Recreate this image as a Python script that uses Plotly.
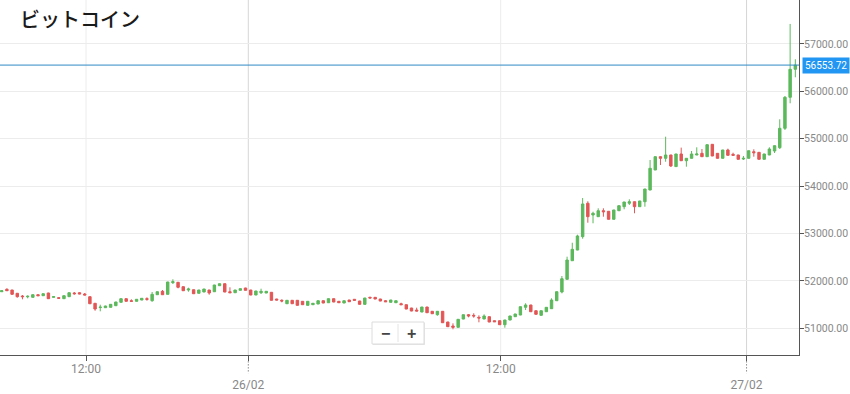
import plotly.graph_objects as go

title_text = "ビットコイン"

opens = [51772, 51823, 51808, 51739, 51681, 51665, 51654, 51709, 51688, 51745,
         51654, 51646, 51625, 51667, 51745, 51751, 51724, 51667, 51528, 51438,
         51435, 51443, 51477, 51549, 51625, 51582, 51570, 51597, 51625, 51582,
         51709, 51781, 51717, 51963, 51971, 51878, 51808, 51814, 51739, 51766,
         51808, 51772, 51899, 51941, 51772, 51751, 51802, 51850, 51808, 51703,
         51751, 51745, 51760, 51618, 51591, 51519, 51591, 51591, 51570, 51485,
         51498, 51513, 51582, 51540, 51625, 51570, 51534, 51597, 51612, 51576,
         51506, 51654, 51654, 51618, 51582, 51549, 51540, 51519, 51498, 51428,
         51386, 51344, 51449, 51359, 51287, 51359, 51133, 51049, 51021, 51196,
         51287, 51274, 51232, 51196, 51245, 51160, 51160, 51076, 51175, 51245,
         51281, 51443, 51492, 51371, 51274, 51350, 51414, 51582, 51766, 52034,
         52426, 52652, 52933, 53638, 53391, 53355, 53481, 53469, 53300, 53481,
         53566, 53638, 53671, 53566, 53671, 53918, 54341, 54621, 54587, 54657,
         54412, 54678, 54536, 54587, 54657, 54692, 54621, 54882, 54692, 54587,
         54762, 54671, 54657, 54572, 54587, 54726, 54713, 54566, 54657, 54741,
         54811, 55220, 55874, 56465]
highs = [51798, 51844, 51812, 51742, 51703, 51696, 51714, 51714, 51735, 51750,
         51672, 51650, 51692, 51756, 51766, 51760, 51745, 51672, 51532, 51498,
         51478, 51510, 51560, 51630, 51630, 51612, 51616, 51638, 51654, 51766,
         51776, 51808, 51982, 52034, 51976, 51882, 51857, 51818, 51812, 51833,
         51812, 51918, 51946, 51946, 51865, 51812, 51840, 51855, 51812, 51791,
         51836, 51785, 51764, 51622, 51612, 51595, 51595, 51595, 51574, 51574,
         51532, 51587, 51587, 51629, 51629, 51574, 51587, 51601, 51616, 51580,
         51643, 51667, 51660, 51622, 51597, 51601, 51587, 51540, 51502, 51432,
         51435, 51453, 51453, 51363, 51363, 51363, 51137, 51105, 51194, 51291,
         51302, 51317, 51274, 51295, 51249, 51164, 51164, 51179, 51264, 51306,
         51460, 51528, 51496, 51375, 51375, 51447, 51633, 51776, 52104, 52511,
         52806, 52975, 53749, 53680, 53460, 53532, 53532, 53473, 53500, 53591,
         53669, 53722, 53675, 53690, 53943, 54551, 54625, 54630, 55043, 54661,
         54682, 54812, 54591, 54741, 54819, 54783, 54878, 54886, 54696, 54766,
         54790, 54705, 54661, 54636, 54751, 54777, 54717, 54682, 54819, 54857,
         55410, 55901, 57422, 56676]
lows = [51768, 51790, 51713, 51646, 51612, 51633, 51650, 51684, 51684, 51620,
        51650, 51628, 51620, 51662, 51709, 51720, 51700, 51512, 51371, 51359,
        51430, 51440, 51473, 51545, 51566, 51566, 51566, 51593, 51582, 51561,
        51705, 51705, 51713, 51935, 51844, 51789, 51772, 51726, 51735, 51762,
        51709, 51768, 51895, 51762, 51747, 51747, 51798, 51798, 51699, 51699,
        51724, 51741, 51587, 51593, 51549, 51515, 51515, 51481, 51494, 51481,
        51494, 51509, 51530, 51536, 51551, 51536, 51530, 51557, 51587, 51502,
        51502, 51635, 51614, 51572, 51557, 51545, 51536, 51494, 51403, 51361,
        51361, 51340, 51325, 51304, 51266, 51114, 51030, 50979, 51017, 51192,
        51232, 51224, 51127, 51192, 51129, 51135, 51072, 51013, 51171, 51241,
        51277, 51386, 51346, 51291, 51270, 51346, 51410, 51578, 51738, 52030,
        52422, 52648, 52891, 53228, 53216, 53351, 53355, 53296, 53296, 53477,
        53511, 53602, 53427, 53562, 53566, 53914, 54337, 54446, 54515, 54404,
        54408, 54530, 54410, 54583, 54653, 54617, 54617, 54632, 54583, 54583,
        54646, 54646, 54562, 54551, 54583, 54621, 54562, 54562, 54653, 54699,
        54783, 55184, 55748, 56296]
closes = [51793, 51793, 51717, 51667, 51667, 51675, 51709, 51688, 51730, 51625,
          51667, 51633, 51688, 51751, 51730, 51724, 51703, 51519, 51407, 51447,
          51470, 51506, 51555, 51625, 51570, 51570, 51612, 51633, 51612, 51717,
          51772, 51709, 51977, 51983, 51865, 51793, 51829, 51730, 51808, 51829,
          51745, 51914, 51941, 51766, 51751, 51808, 51836, 51802, 51703, 51787,
          51781, 51781, 51591, 51597, 51576, 51591, 51519, 51485, 51498, 51570,
          51528, 51582, 51534, 51625, 51555, 51540, 51582, 51561, 51591, 51506,
          51639, 51639, 51618, 51576, 51561, 51597, 51582, 51498, 51407, 51365,
          51365, 51449, 51329, 51308, 51359, 51118, 51034, 51021, 51190, 51287,
          51260, 51260, 51217, 51260, 51133, 51139, 51076, 51175, 51260, 51302,
          51456, 51492, 51350, 51295, 51371, 51443, 51597, 51772, 52047, 52441,
          52667, 52948, 53623, 53355, 53427, 53481, 53460, 53300, 53496, 53587,
          53665, 53671, 53566, 53686, 53939, 54376, 54621, 54587, 54657, 54425,
          54678, 54536, 54587, 54678, 54678, 54621, 54874, 54636, 54587, 54762,
          54650, 54650, 54566, 54587, 54747, 54705, 54566, 54678, 54783, 54853,
          55220, 55874, 56465, 56553.72]

current_price = 56553.72
current_label = "56553.72"

tick_positions = [16.25, 47.54, 96.2, 143.6]
tick_labels = ["12:00", " <br>26/02", "12:00", " <br>27/02"]
date_ticks = [47.54, 143.6]
price_ticks = [51000, 52000, 53000, 54000, 55000, 56000, 57000]

x_range = [-0.33, 153.71]
y_range = [50437, 57927]

x = list(range(len(closes)))

GREEN = "#5cb85c"
RED = "#e25656"

fig = go.Figure()
fig.add_trace(go.Candlestick(
    x=x, open=opens, high=highs, low=lows, close=closes,
    increasing=dict(line=dict(color=GREEN, width=1), fillcolor=GREEN),
    decreasing=dict(line=dict(color=RED, width=1), fillcolor=RED),
    whiskerwidth=0, hoverinfo="skip", showlegend=False,
))


def to_paper_x(v):
    return (v - x_range[0]) / (x_range[1] - x_range[0])


shapes = []
for t in tick_positions:
    is_date = t in date_ticks
    shapes.append(dict(type="line", xref="x", yref="paper", x0=t, x1=t, y0=0, y1=1,
                       line=dict(color="#d6d6d6" if is_date else "#ececec", width=1),
                       layer="below"))
    if is_date:
        px = to_paper_x(t)
        shapes.append(dict(type="line", xref="paper", yref="paper", x0=px, x1=px,
                           y0=-0.018, y1=-0.052,
                           line=dict(color="#555", width=1, dash="1px,2px"), layer="above"))
# current price line
shapes.append(dict(type="line", xref="paper", yref="y", x0=0, x1=1,
                   y0=current_price, y1=current_price,
                   line=dict(color="#2f8ac4", width=1), layer="above"))
# zoom control box
shapes.append(dict(type="rect", xref="paper", yref="paper",
                   x0=373 / 799, x1=425 / 799, y0=(355 - 345) / 355, y1=(355 - 323) / 355,
                   fillcolor="#e6e6e6", line=dict(width=0), layer="above"))
shapes.append(dict(type="rect", xref="paper", yref="paper",
                   x0=372 / 799, x1=424 / 799, y0=(355 - 344) / 355, y1=(355 - 322) / 355,
                   fillcolor="#ffffff", line=dict(color="#dcdcdc", width=1), layer="above"))
shapes.append(dict(type="line", xref="paper", yref="paper",
                   x0=398 / 799, x1=398 / 799, y0=(355 - 342) / 355, y1=(355 - 324) / 355,
                   line=dict(color="#e4e4e4", width=1), layer="above"))

annotations = [
    dict(xref="paper", yref="y", x=1, y=current_price, xanchor="left", yanchor="middle",
         xshift=3, text=current_label, showarrow=False,
         font=dict(color="#ffffff", size=10, family="Roboto, Arial"),
         bgcolor="#2196f3", borderpad=2),
    dict(xref="paper", yref="paper", x=385 / 799, y=(355 - 333) / 355, text="<b>−</b>",
         showarrow=False, yanchor="middle", font=dict(color="#444", size=16, family="Arial")),
    dict(xref="paper", yref="paper", x=411 / 799, y=(355 - 333) / 355, text="<b>+</b>",
         showarrow=False, yanchor="middle", font=dict(color="#444", size=16, family="Arial")),
]

fig.update_layout(
    width=850, height=394,
    margin=dict(l=0, r=51, t=0, b=39),
    paper_bgcolor="#ffffff", plot_bgcolor="#ffffff",
    font=dict(family="Roboto, Arial", color="#888888"),
    title=dict(text=title_text, x=20 / 850, xanchor="left", y=1 - 20 / 394, yanchor="middle",
               xref="container", yref="container",
               font=dict(family="Noto Sans CJK JP", size=20, color="#1a1a1a", weight=500)),
    showlegend=False,
    boxgap=0.33,
    hovermode=False,
    shapes=shapes,
    annotations=annotations,
    xaxis=dict(range=x_range, tickmode="array", tickvals=tick_positions,
               ticktext=tick_labels, showgrid=False, zeroline=False,
               showline=True, linecolor="#555555", linewidth=1,
               ticks="outside", ticklen=5, tickcolor="#555555",
               ticklabelstandoff=-2,
               tickfont=dict(size=12, color="#888888"),
               rangeslider=dict(visible=False), fixedrange=True),
    yaxis=dict(range=y_range, side="right", tickmode="array", tickvals=price_ticks,
               tickformat=".2f", showgrid=True, gridcolor="#ececec", gridwidth=1,
               zeroline=False, showline=True, linecolor="#555555", linewidth=1,
               ticks="outside", ticklen=4, tickcolor="#555555",
               ticklabelstandoff=-2,
               tickfont=dict(size=10.5, color="#888888"), fixedrange=True),
)

fig.write_html("out.html", config={"displayModeBar": False},
               post_script="document.body.style.margin='0';document.body.style.padding='0';")
